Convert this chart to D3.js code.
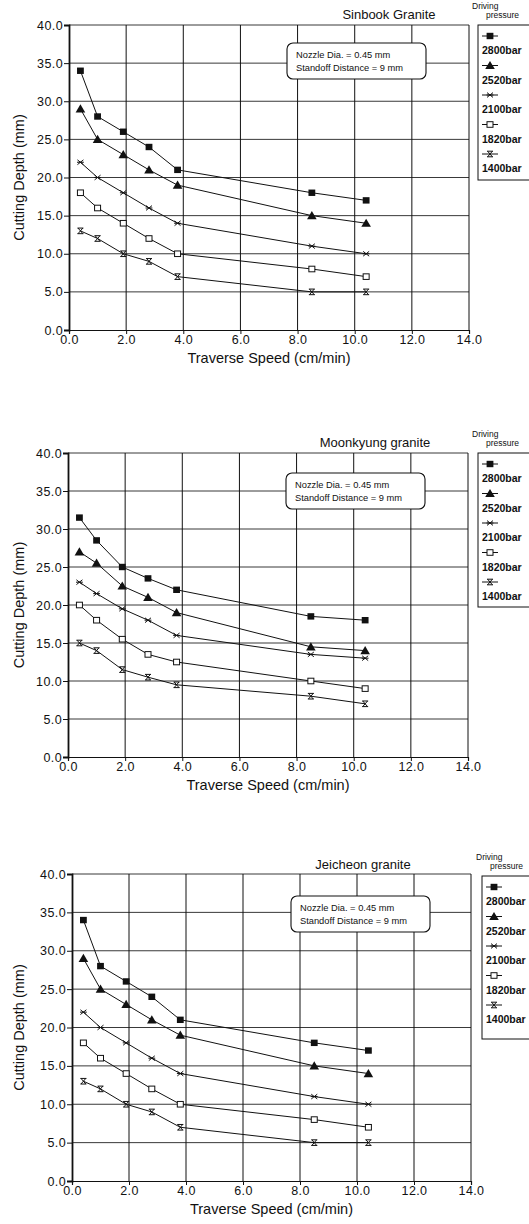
<!DOCTYPE html>
<html>
<head>
<meta charset="utf-8">
<script src="https://cdn.jsdelivr.net/npm/d3@7"></script>
<style>
  html, body { margin: 0; padding: 0; background: #fff; }
  svg { display: block; }
  text { font-family: "Liberation Sans", Arial, sans-serif; fill: #111; }
</style>
</head>
<body>
<svg id="chart" width="529" height="1224"></svg>
<script>
// Traverse speeds (cm/min) shared by every series
const speeds = [0.4, 1.0, 1.9, 2.8, 3.8, 8.5, 10.4];
// Driving pressures, one series each
const pressures = ["2800bar", "2520bar", "2100bar", "1820bar", "1400bar"];
// Cutting depth (mm) per pressure, for each granite
const sinbookDepth = [
  [34, 28, 26, 24, 21, 18, 17],
  [29, 25, 23, 21, 19, 15, 14],
  [22, 20, 18, 16, 14, 11, 10],
  [18, 16, 14, 12, 10, 8, 7],
  [13, 12, 10, 9, 7, 5, 5]
];
const moonkyungDepth = [
  [31.5, 28.5, 25, 23.5, 22, 18.5, 18],
  [27, 25.5, 22.5, 21, 19, 14.5, 14],
  [23, 21.5, 19.5, 18, 16, 13.5, 13],
  [20, 18, 15.5, 13.5, 12.5, 10, 9],
  [15, 14, 11.5, 10.5, 9.5, 8, 7]
];
const jeicheonDepth = [
  [34, 28, 26, 24, 21, 18, 17],
  [29, 25, 23, 21, 19, 15, 14],
  [22, 20, 18, 16, 14, 11, 10],
  [18, 16, 14, 12, 10, 8, 7],
  [13, 12, 10, 9, 7, 5, 5]
];
const xTicks = [0, 2, 4, 6, 8, 10, 12, 14];
const yTicks = [0, 5, 10, 15, 20, 25, 30, 35, 40];
const noteLines = ["Nozzle Dia. = 0.45 mm", "Standoff Distance = 9 mm"];
const xLabel = "Traverse Speed (cm/min)";
const yLabel = "Cutting Depth (mm)";
const legendTitle = ["Driving", "pressure"];

const svg = d3.select("#chart");

// Page layout of the three stacked panels
const panels = [
  { title: "Sinbook Granite", data: sinbookDepth,
    left: 69, right: 469, top: 25, bottom: 330,
    titleX: 389, titleY: 19, legX: 478, legTop: 25, legH: 155,
    noteX: 287, noteY: 43 },
  { title: "Moonkyung granite", data: moonkyungDepth,
    left: 68, right: 468, top: 453, bottom: 757,
    titleX: 375, titleY: 447, legX: 478, legTop: 453, legH: 154,
    noteX: 286, noteY: 473 },
  { title: "Jeicheon granite", data: jeicheonDepth,
    left: 72, right: 471, top: 874, bottom: 1181,
    titleX: 363, titleY: 869, legX: 482, legTop: 876, legH: 163,
    noteX: 291, noteY: 896 }
];

// Marker glyphs, one per pressure
function drawMarker(g, k, cx, cy) {
  const m = g.append("g").attr("transform", `translate(${cx},${cy})`);
  if (k === 0) {
    m.append("rect").attr("x", -3.4).attr("y", -3.2).attr("width", 6.8).attr("height", 6.4)
      .attr("fill", "#111");
  } else if (k === 1) {
    m.append("path").attr("d", "M0,-4.6 L4.8,3.6 L-4.8,3.6 Z").attr("fill", "#111");
  } else if (k === 2) {
    m.append("path").attr("d", "M-3,-2.4 L3,2.4 M-3,2.4 L3,-2.4 M-3.4,0 L3.4,0")
      .attr("stroke", "#111").attr("stroke-width", 1).attr("fill", "none");
  } else if (k === 3) {
    m.append("rect").attr("x", -3).attr("y", -2.8).attr("width", 6).attr("height", 5.6)
      .attr("fill", "#fff").attr("stroke", "#111").attr("stroke-width", 1);
  } else {
    m.append("path").attr("d", "M-3,-2.8 L3,-2.8 M-3,2.8 L3,2.8 M-2.4,-2.8 L2.4,2.8 M2.4,-2.8 L-2.4,2.8")
      .attr("stroke", "#111").attr("stroke-width", 1).attr("fill", "none");
  }
}

panels.forEach(p => {
  const x = d3.scaleLinear().domain([0, 14]).range([p.left, p.right]);
  const y = d3.scaleLinear().domain([0, 40]).range([p.bottom, p.top]);
  const g = svg.append("g");

  // grid
  g.append("g").selectAll("line").data(yTicks.slice(1)).join("line")
    .attr("x1", p.left).attr("x2", p.right)
    .attr("y1", d => y(d)).attr("y2", d => y(d))
    .attr("stroke", "#222").attr("stroke-width", 0.9);
  g.append("g").selectAll("line").data(xTicks.slice(1)).join("line")
    .attr("y1", p.top).attr("y2", p.bottom)
    .attr("x1", d => x(d)).attr("x2", d => x(d))
    .attr("stroke", "#111").attr("stroke-width", 1);

  // axes
  const yAxis = g.append("g").attr("transform", `translate(${p.left},0)`)
    .call(d3.axisLeft(y).tickValues(yTicks).tickFormat(d3.format(".1f"))
      .tickSize(5).tickPadding(1));
  yAxis.select(".domain").attr("stroke", "#111").attr("stroke-width", 1.8);
  yAxis.selectAll(".tick line").attr("stroke", "#111");
  yAxis.selectAll("text").attr("font-size", 12.5).attr("letter-spacing", 0.4)
    .attr("font-family", "Liberation Sans, Arial, sans-serif").attr("fill", "#111");

  const xAxis = g.append("g").attr("transform", `translate(0,${p.bottom})`)
    .call(d3.axisBottom(x).tickValues(xTicks).tickFormat(d3.format(".1f"))
      .tickSize(4).tickPadding(1));
  xAxis.select(".domain").attr("stroke", "#111").attr("stroke-width", 1.2);
  xAxis.selectAll(".tick line").attr("stroke", "#111");
  xAxis.selectAll("text").attr("font-size", 12.5).attr("letter-spacing", 0.4)
    .attr("font-family", "Liberation Sans, Arial, sans-serif").attr("fill", "#111");

  // axis titles
  g.append("text").attr("x", (p.left + p.right) / 2).attr("y", p.bottom + 33)
    .attr("text-anchor", "middle").attr("font-size", 14.5).text(xLabel);
  g.append("text")
    .attr("transform", `translate(24,${(p.top + p.bottom) / 2}) rotate(-90)`)
    .attr("text-anchor", "middle").attr("font-size", 14.5).text(yLabel);

  // chart title
  g.append("text").attr("x", p.titleX).attr("y", p.titleY)
    .attr("text-anchor", "middle").attr("font-size", 13).text(p.title);

  // series lines and markers
  const line = d3.line().x((d, i) => x(speeds[i])).y(d => y(d));
  p.data.forEach((vals, k) => {
    g.append("path").datum(vals).attr("d", line)
      .attr("fill", "none").attr("stroke", "#111").attr("stroke-width", 1);
    vals.forEach((v, i) => drawMarker(g, k, x(speeds[i]), y(v)));
  });

  // note box
  g.append("rect").attr("x", p.noteX).attr("y", p.noteY).attr("width", 139).attr("height", 36)
    .attr("rx", 6).attr("fill", "#fff").attr("stroke", "#111").attr("stroke-width", 1.1);
  noteLines.forEach((t, i) => {
    g.append("text").attr("x", p.noteX + 9).attr("y", p.noteY + 15 + i * 13)
      .attr("font-size", 9.3).text(t);
  });

  // legend
  g.append("text").attr("x", p.legX - 6).attr("y", p.legTop - 16)
    .attr("font-size", 8.5).text(legendTitle[0]);
  g.append("text").attr("x", p.legX + 8).attr("y", p.legTop - 7)
    .attr("font-size", 8.5).text(legendTitle[1]);
  g.append("rect").attr("x", p.legX).attr("y", p.legTop).attr("width", 70).attr("height", p.legH)
    .attr("fill", "#fff").attr("stroke", "#111").attr("stroke-width", 1);
  pressures.forEach((name, k) => {
    const my = p.legTop + 11 + k * 29.5;
    g.append("line").attr("x1", p.legX + 4).attr("x2", p.legX + 20)
      .attr("y1", my).attr("y2", my).attr("stroke", "#111").attr("stroke-width", 1);
    drawMarker(g, k, p.legX + 12, my);
    g.append("text").attr("x", p.legX + 4).attr("y", my + 18)
      .attr("font-size", 10.5).attr("font-weight", "bold").text(name);
  });
});
</script>
</body>
</html>
